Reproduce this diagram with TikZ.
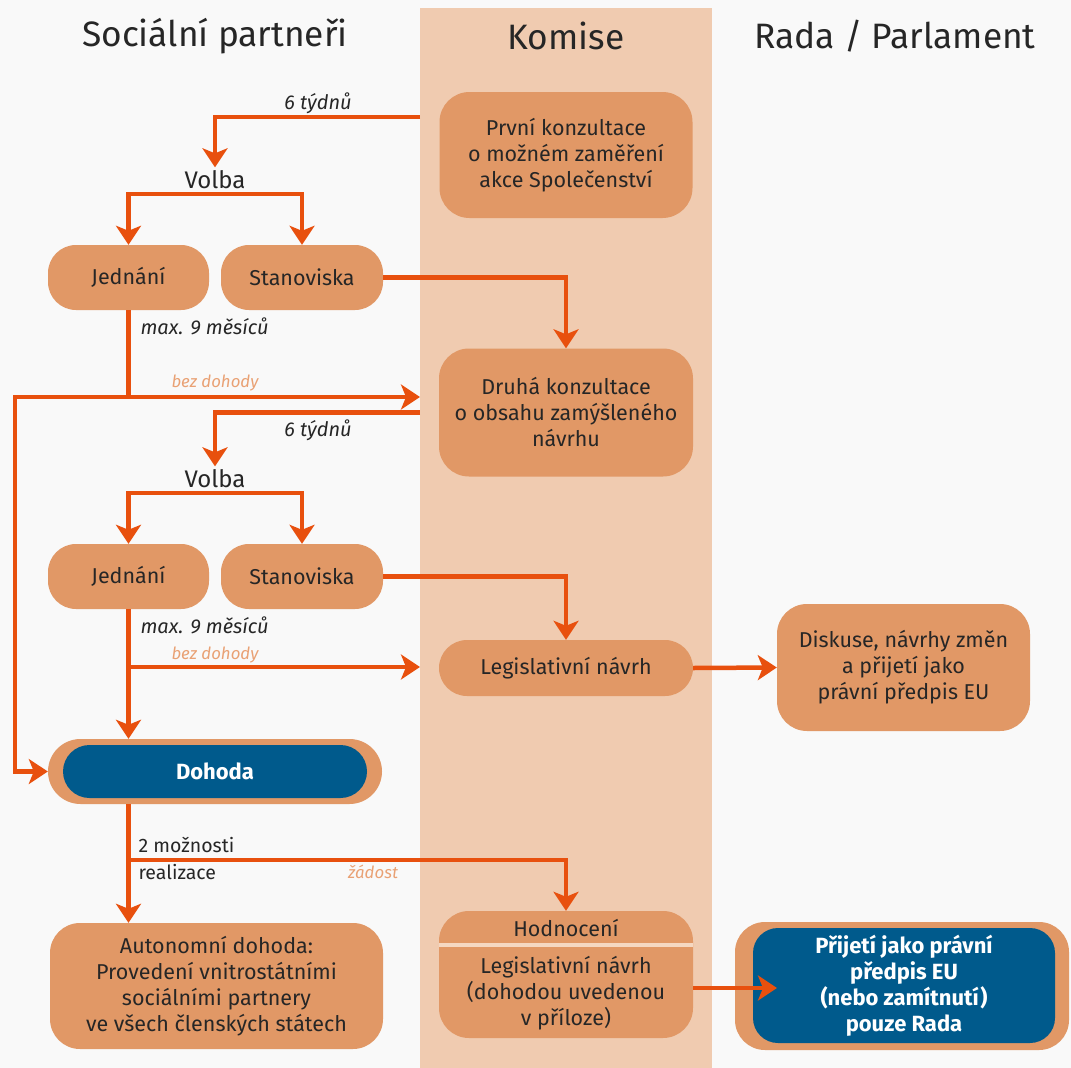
\documentclass[tikz,border=0pt]{standalone}
\usepackage{fontspec}
\setmainfont{Fira Sans}
\usetikzlibrary{arrows.meta,calc}
\definecolor{bgc}{HTML}{F9F9F9}
\definecolor{colc}{HTML}{F0CBB0}
\definecolor{boxc}{HTML}{E19866}
\definecolor{arrc}{HTML}{E8500E}
\definecolor{bluc}{HTML}{005A8C}
\definecolor{txtc}{HTML}{262626}
\definecolor{lblc}{HTML}{E9A174}
\definecolor{divc}{HTML}{F5D8C2}
\begin{document}
\begin{tikzpicture}[x=1pt,y=-1pt,
  boxn/.style={draw=none, fill=boxc, rounded corners=30pt, align=center, text=txtc,
    font=\fontsize{21.5}{26}\selectfont, inner sep=0pt},
  pill/.style={boxn, rounded corners=28pt},
  bluen/.style={draw=none, fill=bluc, align=center, text=white, inner sep=0pt,
    font=\fontsize{22}{26}\selectfont\bfseries},
  conn/.style={draw=arrc, line width=4.5pt},
  connA/.style={conn, -{Stealth[length=19pt,width=25pt,inset=5pt]}},
  title/.style={text=txtc, font=\fontsize{35.3}{38}\selectfont},
  ital/.style={text=txtc, font=\fontsize{20}{22}\selectfont\itshape},
  lite/.style={text=lblc, font=\fontsize{16.8}{19}\selectfont\itshape},
  plain/.style={text=txtc, font=\fontsize{19.5}{22}\selectfont},
  volb/.style={text=txtc, font=\fontsize{24}{26}\selectfont}
]
\useasboundingbox (0,0) rectangle (1071,1068);
\fill[bgc] (0,0) rectangle (1071,1068);
\fill[colc] (420,8) rectangle (712,1068);
\coordinate (colL) at (420,0);

% titles
\node[title] (h1) at (215,36) {Sociální partneři};
\node[title] (h2) at (566,36) {Komise};
\node[title] (h3) at (895,36) {Rada / Parlament};

% boxes
\node[boxn, minimum width=253pt, minimum height=126pt] (prvni) at (566,155)
  {První konzultace\\o možném zaměření\\akce Společenství};
\node[pill, minimum width=161pt, minimum height=65pt] (jed1) at (128.5,277.5) {Jednání};
\node[pill, minimum width=162pt, minimum height=65pt] (stan1) at (302,277.5) {Stanoviska};
\node[boxn, minimum width=254pt, minimum height=128pt] (druha) at (566,412.5)
  {Druhá konzultace\\o obsahu zamýšleného\\návrhu};
\node[pill, minimum width=161pt, minimum height=65pt] (jed2) at (128.5,576.5) {Jednání};
\node[pill, minimum width=162pt, minimum height=65pt] (stan2) at (302,576.5) {Stanoviska};
\node[pill, minimum width=254pt, minimum height=56pt] (leg) at (566,668) {Legislativní návrh};
\node[boxn, minimum width=253pt, minimum height=127pt] (disk) at (903.5,667.5)
  {Diskuse, návrhy změn\\a přijetí jako\\právní předpis EU};
\node[boxn, rounded corners=32.5pt, minimum width=334pt, minimum height=65pt] (dohoda) at (215,771.5) {};
\node[bluen, rounded corners=26.5pt, minimum width=304pt, minimum height=53pt] (dohodai) at (215,771.5) {Dohoda};
\node[boxn, minimum width=333pt, minimum height=126pt] (auton) at (216.5,986)
  {Autonomní dohoda:\\Provedení vnitrostátními\\sociálními partnery\\ve všech členských státech};
\node[boxn, minimum width=254pt, minimum height=127pt] (hodn) at (566,974.5) {};
\draw[divc, line width=4pt] (hodn.west |- 0,945) -- (hodn.east |- 0,945);
\node[text=txtc, font=\fontsize{21.5}{26}\selectfont] (hodt) at (566,928) {Hodnocení};
\node[align=center, text=txtc, font=\fontsize{21.5}{26}\selectfont] (hodl) at (566,993)
  {Legislativní návrh\\(dohodou uvedenou\\v příloze)};
\node[boxn, minimum width=334pt, minimum height=128pt] (rada) at (902,986) {};
\node[bluen, rounded corners=25pt, minimum width=302pt, minimum height=115pt] (radai) at (904,985.5)
  {Přijetí jako právní\\předpis EU\\(nebo zamítnutí)\\pouze Rada};

% labels
\node[volb] (volba1) at (215,180) {Volba};
\node[volb] (volba2) at (215,479) {Volba};
\node[ital] (t1) at (318,103) {6 týdnů};
\node[ital] (t2) at (318,430) {6 týdnů};
\node[ital, anchor=west] (m1) at (137,326) {max. 9 měsíců};
\node[ital, anchor=west] (m2) at (137,625) {max. 9 měsíců};
\node[lite] (b1) at (215,383) {bez dohody};
\node[lite] (b2) at (215,655) {bez dohody};
\node[plain, anchor=west] (mo) at (135,845) {2 možnosti};
\node[plain, anchor=west] (re) at (135,872) {realizace};
\node[lite] (za) at (373,872) {žádost};

% junction coordinates
\coordinate (v1) at (215,194);
\coordinate (v2) at (215,493);
\coordinate (j1) at (128.5,397);
\coordinate (j2) at (128.5,667);
\coordinate (j3) at (128.5,860);
\coordinate (lft) at (15,771.5);
\coordinate (rtip) at (777,988);

% connectors
\draw[connA] (prvni.west -| colL) ++(0,-38) -| (volba1.north);
\draw[connA] (v1) -| (jed1.north);
\draw[connA] (v1) -| (stan1.north);
\draw[connA] (stan1.east) -| (druha.north);
\draw[conn] (jed1.south) -- (j1);
\draw[connA] (j1) -- (j1 -| colL);
\draw[connA] (j1) -| (lft) -- (dohoda.west);
\draw[connA] (druha.west -| colL) -| (volba2.north);
\draw[connA] (v2) -| (jed2.north);
\draw[connA] (v2) -| (stan2.north);
\draw[connA] (stan2.east) -| (leg.north);
\draw[connA] (jed2.south) -- (jed2.south |- dohoda.north);
\draw[connA] (j2) -- (j2 -| colL);
\draw[connA] (leg.east) -- (disk.west);
\draw[connA] (j3 |- dohoda.south) -- (j3 |- auton.north);
\draw[connA] (j3) -| (hodn.north);
\draw[connA] (hodn.east |- rtip) -- (rtip);
\end{tikzpicture}
\end{document}
